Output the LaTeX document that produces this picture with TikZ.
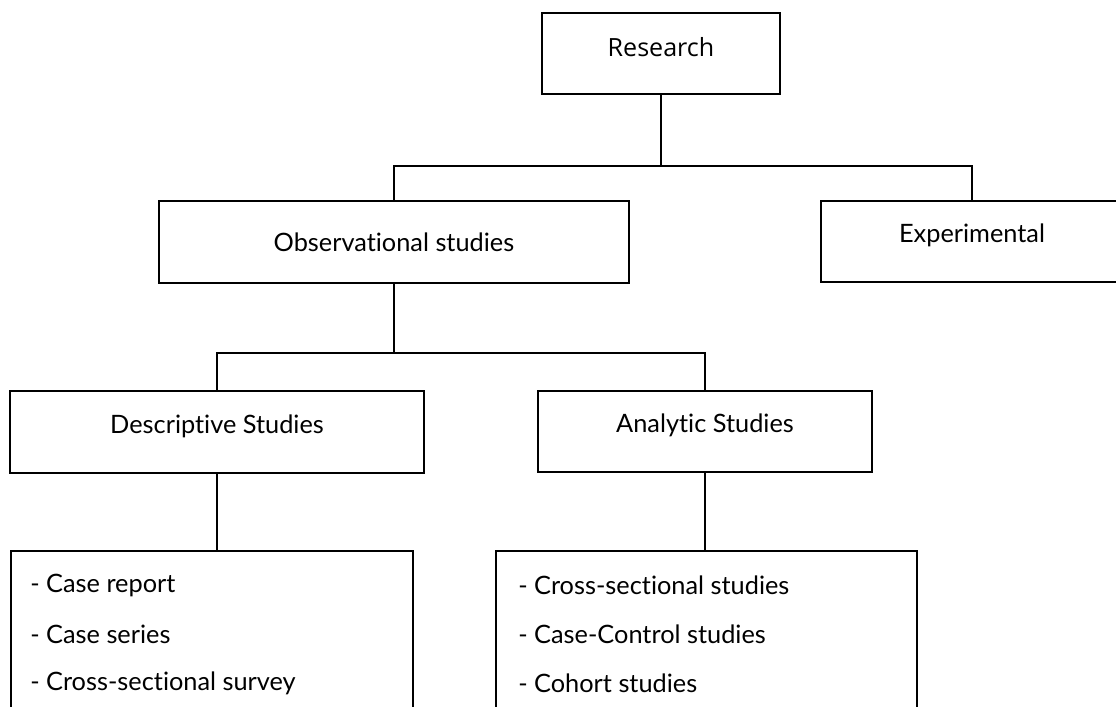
\documentclass[tikz,border=0pt]{standalone}
\usepackage{fontspec}
\setmainfont{Lato}[Ligatures={NoCommon}]
\newfontfamily\headfont{Open Sans}
\begin{document}
\begin{tikzpicture}[x=0.75pt,y=-0.75pt,
  box/.style={draw=black, line width=1.5pt, rectangle, inner sep=0pt},
  link/.style={draw=black, line width=1.2pt},
  txt/.style={font=\fontsize{19}{22}\selectfont, inner sep=0pt},
  item/.style={txt, anchor=west}
]
\useasboundingbox (0,0) rectangle (1116,706);
\clip (0,0) rectangle (1116,706);
\fill[white] (0,0) rectangle (1116,706);

% top level
\node[box, minimum width=238*0.75pt, minimum height=81*0.75pt,
  label={[txt, font=\headfont\fontsize{18.8}{22}\selectfont, yshift=4.5pt]center:Research}] (res) at (661,53.5) {};

% second level
\node[box, minimum width=470*0.75pt, minimum height=82*0.75pt,
  label={[txt]center:Observational studies}] (obs) at (394,242) {};
\node[box, minimum width=302*0.75pt, minimum height=81*0.75pt,
  label={[txt, yshift=4.5pt]center:Experimental}] (exp) at (972,241.5) {};

% third level
\node[box, minimum width=414*0.75pt, minimum height=82*0.75pt,
  label={[txt, yshift=4.5pt]center:Descriptive Studies}] (desc) at (217,432) {};
\node[box, minimum width=334*0.75pt, minimum height=81*0.75pt,
  label={[txt, yshift=4.5pt]center:Analytic Studies}] (ana) at (705,431.5) {};

% study lists (boxes run past the lower edge)
\node[box, minimum width=402*0.75pt, minimum height=200*0.75pt] (dlist) at (212,651) {};
\node[box, minimum width=421*0.75pt, minimum height=200*0.75pt] (alist) at (706.5,651) {};

\node[item] (d1) at (30,585) {- Case report};
\node[item] (d2) at (30,634) {- Case series};
\node[item] (d3) at (30,683) {- Cross-sectional survey};
\node[item] (a1) at (518,585) {- Cross-sectional studies};
\node[item] (a2) at (518,634) {- Case-Control studies};
\node[item] (a3) at (518,683) {- Cohort studies};

% connectors
\coordinate (bus1) at (0,166);
\coordinate (bus2) at (0,353);
\draw[link] (res.south) -- (res.south |- bus1);
\draw[link] (obs.north) -- (obs.north |- bus1) -| (exp.north);
\draw[link] (obs.south) -- (obs.south |- bus2);
\draw[link] (desc.north) -- (desc.north |- bus2) -| (ana.north);
\draw[link] (desc.south) -- (desc.south |- dlist.north);
\draw[link] (ana.south) -- (ana.south |- alist.north);
\end{tikzpicture}
\end{document}
